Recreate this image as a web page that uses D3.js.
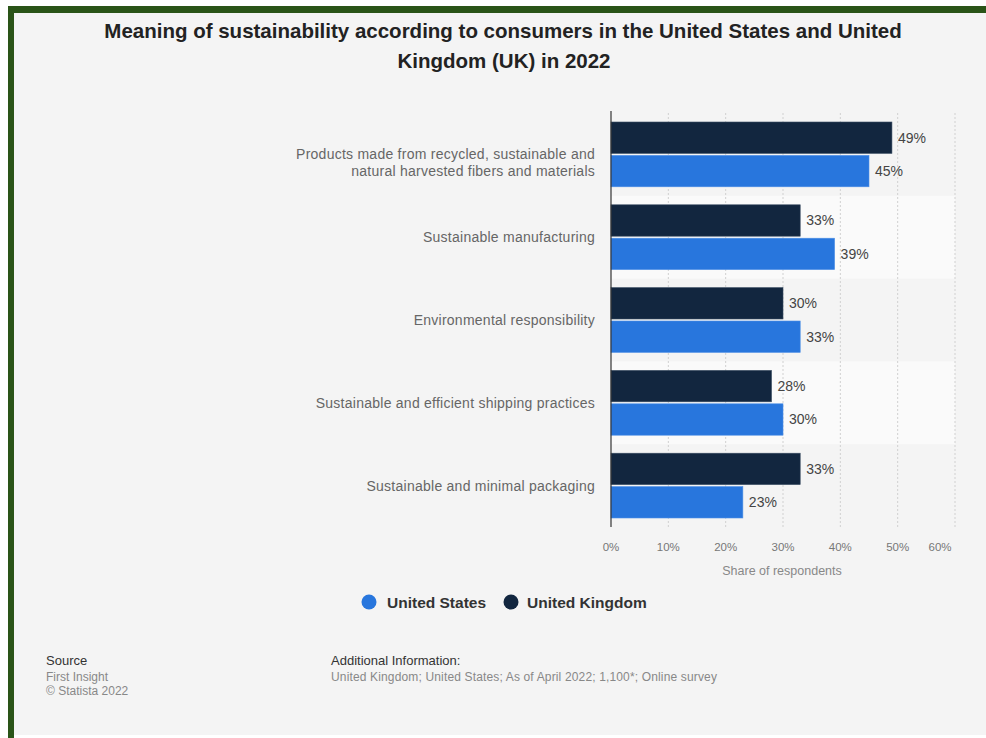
<!DOCTYPE html>
<html>
<head>
<meta charset="utf-8">
<script src="https://cdn.jsdelivr.net/npm/d3@7"></script>
<style>
  body { margin: 0; background: #fff; }
  svg { display: block; font-family: "Liberation Sans", Arial, sans-serif; }
</style>
</head>
<body>
<div id="chart"></div>
<script>
'use strict';
// chart data
var categories = [
    ['Products made from recycled, sustainable and', 'natural harvested fibers and materials'],
    ['Sustainable manufacturing'],
    ['Environmental responsibility'],
    ['Sustainable and efficient shipping practices'],
    ['Sustainable and minimal packaging']
];
var seriesNames = ['United Kingdom', 'United States'];
var ukValues = [49, 33, 30, 28, 33];
var usValues = [45, 39, 33, 30, 23];
var tickValues = [0, 10, 20, 30, 40, 50, 60];
var tickLabels = ['0%', '10%', '20%', '30%', '40%', '50%', '60%'];

var width = 986,
    height = 738;
var colors = { 'United States': '#2876dd', 'United Kingdom': '#12263f' };

var svg = d3.select('#chart').append('svg')
    .attr('width', width)
    .attr('height', height);

// frame: green top and left edge, light panel
svg.append('rect').attr('x', 8).attr('y', 6).attr('width', 6).attr('height', height)
    .attr('fill', '#2a5418');
svg.append('rect').attr('x', 8).attr('y', 6).attr('width', width).attr('height', 7)
    .attr('fill', '#2a5418');
svg.append('rect').attr('x', 14).attr('y', 13).attr('width', width).attr('height', 722)
    .attr('fill', '#f4f4f4');

// title
svg.append('text').attr('x', 503).attr('y', 38).attr('text-anchor', 'middle')
    .attr('font-size', 20.5).attr('font-weight', 'bold').attr('fill', '#222')
    .text('Meaning of sustainability according to consumers in the United States and United');
svg.append('text').attr('x', 504).attr('y', 68).attr('text-anchor', 'middle')
    .attr('font-size', 20.5).attr('font-weight', 'bold').attr('fill', '#222')
    .text('Kingdom (UK) in 2022');

var x = d3.scaleLinear().domain([0, 60]).range([611, 955]);
var y = d3.scaleBand().domain(d3.range(categories.length)).range([113, 527]);
var inner = d3.scaleBand().domain(seriesNames).range([9, y.bandwidth() - 9]).paddingInner(0.06);

var plot = svg.append('g');

// alternating bands
plot.selectAll('rect.band').data(d3.range(categories.length).filter(function (i) { return i % 2 === 1; }))
    .enter().append('rect')
    .attr('class', 'band')
    .attr('x', x(0)).attr('width', x(60) - x(0))
    .attr('y', function (i) { return y(i); })
    .attr('height', y.bandwidth())
    .attr('fill', '#fafafa');

// grid
plot.selectAll('line.grid').data(tickValues.slice(1))
    .enter().append('line')
    .attr('class', 'grid')
    .attr('x1', function (d) { return x(d); }).attr('x2', function (d) { return x(d); })
    .attr('y1', 113).attr('y2', 527)
    .attr('stroke', '#d0d0d0').attr('stroke-dasharray', '2,2');

// bars
var rows = categories.map(function (c, i) {
    return { i: i, label: c, values: [
        { name: 'United Kingdom', value: ukValues[i] },
        { name: 'United States', value: usValues[i] }
    ] };
});

var groups = plot.selectAll('g.row').data(rows).enter().append('g')
    .attr('class', 'row')
    .attr('transform', function (d) { return 'translate(0,' + y(d.i) + ')'; });

groups.selectAll('rect').data(function (d) { return d.values; })
    .enter().append('rect')
    .attr('x', x(0))
    .attr('y', function (d) { return inner(d.name); })
    .attr('width', function (d) { return x(d.value) - x(0); })
    .attr('height', inner.bandwidth())
    .attr('fill', function (d) { return colors[d.name]; })
    .attr('stroke', function (d) { return d.name === 'United States' ? '#4d8fe6' : '#3a4d63'; })
    .attr('stroke-width', 0.6);

groups.selectAll('text.val').data(function (d) { return d.values; })
    .enter().append('text')
    .attr('class', 'val')
    .attr('x', function (d) { return x(d.value) + 6; })
    .attr('y', function (d) { return inner(d.name) + inner.bandwidth() / 2 + 5; })
    .attr('font-size', 14).attr('fill', '#444')
    .text(function (d) { return d.value + '%'; });

// category labels
groups.each(function (d) {
    var t = d3.select(this).append('text')
        .attr('text-anchor', 'end')
        .attr('font-size', 14).attr('letter-spacing', 0.25).attr('fill', '#666');
    d.label.forEach(function (line, k) {
        t.append('tspan').attr('x', 595)
            .attr('y', y.bandwidth() / 2 + 5 + k * 17)
            .text(line);
    });
});

// y axis line
plot.append('line').attr('x1', x(0)).attr('x2', x(0)).attr('y1', 111).attr('y2', 527)
    .attr('stroke', '#333').attr('stroke-width', 1.2);

// x tick labels
var xLabelPos = tickValues.map(function (v, i) { return i === tickValues.length - 1 ? x(v) - 15 : x(v); });
plot.selectAll('text.tick').data(tickLabels).enter().append('text')
    .attr('class', 'tick')
    .attr('x', function (d, i) { return xLabelPos[i]; })
    .attr('y', 551)
    .attr('text-anchor', 'middle')
    .attr('font-size', 11.5).attr('fill', '#777')
    .text(function (d) { return d; });

svg.append('text').attr('x', 782).attr('y', 575).attr('text-anchor', 'middle')
    .attr('font-size', 12.5).attr('fill', '#888')
    .text('Share of respondents');

// legend
var legendItems = [
    { name: 'United States', cx: 369, tx: 387 },
    { name: 'United Kingdom', cx: 511, tx: 527 }
];
var legend = svg.selectAll('g.legend').data(legendItems).enter().append('g').attr('class', 'legend');
legend.append('circle').attr('cx', function (d) { return d.cx; }).attr('cy', 602).attr('r', 7.5)
    .attr('fill', function (d) { return colors[d.name]; });
legend.append('text').attr('x', function (d) { return d.tx; }).attr('y', 608)
    .attr('font-size', 15.5).attr('font-weight', 'bold').attr('fill', '#333')
    .text(function (d) { return d.name; });

// footer
svg.append('text').attr('x', 46).attr('y', 665).attr('font-size', 13).attr('fill', '#333').text('Source');
svg.append('text').attr('x', 46).attr('y', 681).attr('font-size', 12).attr('fill', '#888').text('First Insight');
svg.append('text').attr('x', 46).attr('y', 695).attr('font-size', 12).attr('fill', '#888').text('\u00a9 Statista 2022');
svg.append('text').attr('x', 331).attr('y', 665).attr('font-size', 13).attr('fill', '#333').text('Additional Information:');
svg.append('text').attr('x', 331).attr('y', 681).attr('font-size', 12).attr('letter-spacing', 0.15).attr('fill', '#888')
    .text('United Kingdom; United States; As of April 2022; 1,100*; Online survey');
</script>
</body>
</html>
